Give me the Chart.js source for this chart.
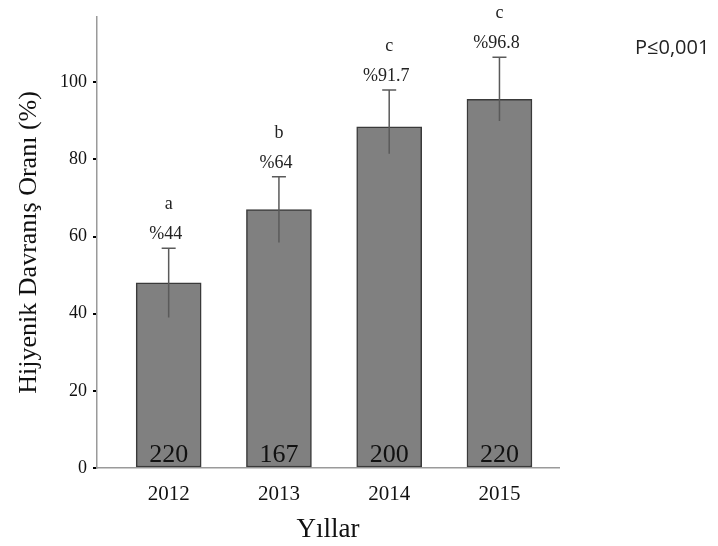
<!DOCTYPE html>
<html>
<head>
<meta charset="utf-8">
<script src="https://cdn.jsdelivr.net/npm/chart.js@4.4.1/dist/chart.umd.min.js"></script>
<style>
  html, body { margin: 0; padding: 0; background: #fff; }
  #wrap { width: 718px; height: 546px; }
</style>
</head>
<body>
<div id="wrap"><canvas id="myChart" width="718" height="546"></canvas></div>
<script>
// data
const years = [2012, 2013, 2014, 2015];
const rates = [48, 67, 88.5, 95.6];
const errHigh = [57, 75.5, 98, 106.5];
const errLow = [39, 58.5, 81.5, 90];
const pctLabels = ['%44', '%64', '%91.7', '%96.8'];
const groupLetters = ['a', 'b', 'c', 'c'];
const sampleSizes = [220, 167, 200, 220];
const yTicks = [0, 20, 40, 60, 80, 100];

const serif = '"Liberation Serif", "DejaVu Serif", serif';

// error bars, letters, % labels, n inside bars, p value
const annotations = {
  id: 'annotations',
  afterDatasetsDraw(chart) {
    const ctx = chart.ctx;
    const x = chart.scales.x, y = chart.scales.y;
    ctx.save();
    years.forEach((yr, i) => {
      const cx = x.getPixelForValue(yr);
      const top = y.getPixelForValue(errHigh[i]);
      const bot = y.getPixelForValue(errLow[i]);
      ctx.strokeStyle = '#5a5a5a';
      ctx.lineWidth = 1.5;
      ctx.beginPath();
      ctx.moveTo(cx, top); ctx.lineTo(cx, bot);
      ctx.moveTo(cx - 7, top); ctx.lineTo(cx + 7, top);
      ctx.stroke();

      ctx.fillStyle = '#222';
      ctx.textAlign = 'center';
      ctx.textBaseline = 'middle';
      ctx.font = '18px ' + serif;
      ctx.fillText(pctLabels[i], cx - 3, top - 14);
      ctx.fillText(groupLetters[i], cx, top - 44);

      ctx.fillStyle = '#111';
      ctx.textBaseline = 'alphabetic';
      ctx.font = '26px ' + serif;
      ctx.fillText(String(sampleSizes[i]), cx, y.getPixelForValue(0) - 6);
    });
    ctx.fillStyle = '#222';
    ctx.textAlign = 'left';
    ctx.textBaseline = 'middle';
    ctx.font = '20px "Open Sans", sans-serif';
    ctx.fillText('P≤0,001', 635, 48);
    ctx.restore();
  }
};

var ctx = document.getElementById('myChart');
var myChart = new Chart(ctx, {
  type: 'bar',
  data: {
    datasets: [{
      label: 'Hijyenik Davranış Oranı (%)',
      data: years.map((yr, i) => ({ x: yr, y: rates[i] })),
      backgroundColor: '#808080',
      borderColor: '#3a3a3a',
      borderWidth: 1.5,
      borderSkipped: false,
      barThickness: 65
    }]
  },
  options: {
    responsive: false,
    animation: false,
    layout: { padding: { top: 10, right: 159, left: 0, bottom: 0 } },
    plugins: {
      legend: { display: false },
      tooltip: { enabled: false }
    },
    scales: {
      x: {
        type: 'linear',
        offset: false,
        min: 2011.35,
        max: 2015.54,
        afterBuildTicks: s => { s.ticks = years.map(v => ({ value: v })); },
        afterFit: s => { s.height = 78; },
        grid: { display: false },
        border: { display: true, color: '#9a9a9a', width: 1.5 },
        ticks: {
          callback: v => String(v),
          color: '#111',
          padding: 6,
          font: { family: serif, size: 21 }
        },
        title: {
          display: true,
          text: 'Yıllar',
          color: '#111',
          padding: { top: 4, bottom: 0 },
          font: { family: serif, size: 27 }
        }
      },
      y: {
        min: 0,
        max: 117,
        afterBuildTicks: s => { s.ticks = yTicks.map(v => ({ value: v })); },
        afterFit: s => { s.width = 97; },
        grid: {
          drawOnChartArea: false,
          drawTicks: true,
          tickLength: 4,
          color: '#000',
          lineWidth: 2
        },
        border: { display: true, color: '#9a9a9a', width: 1.5 },
        ticks: {
          color: '#111',
          padding: 6,
          font: { family: serif, size: 18 }
        },
        title: {
          display: true,
          text: 'Hijyenik Davranış Oranı (%)',
          color: '#111',
          padding: { top: 14, bottom: 0 },
          font: { family: serif, size: 26 }
        }
      }
    }
  },
  plugins: [annotations]
});
</script>
</body>
</html>
